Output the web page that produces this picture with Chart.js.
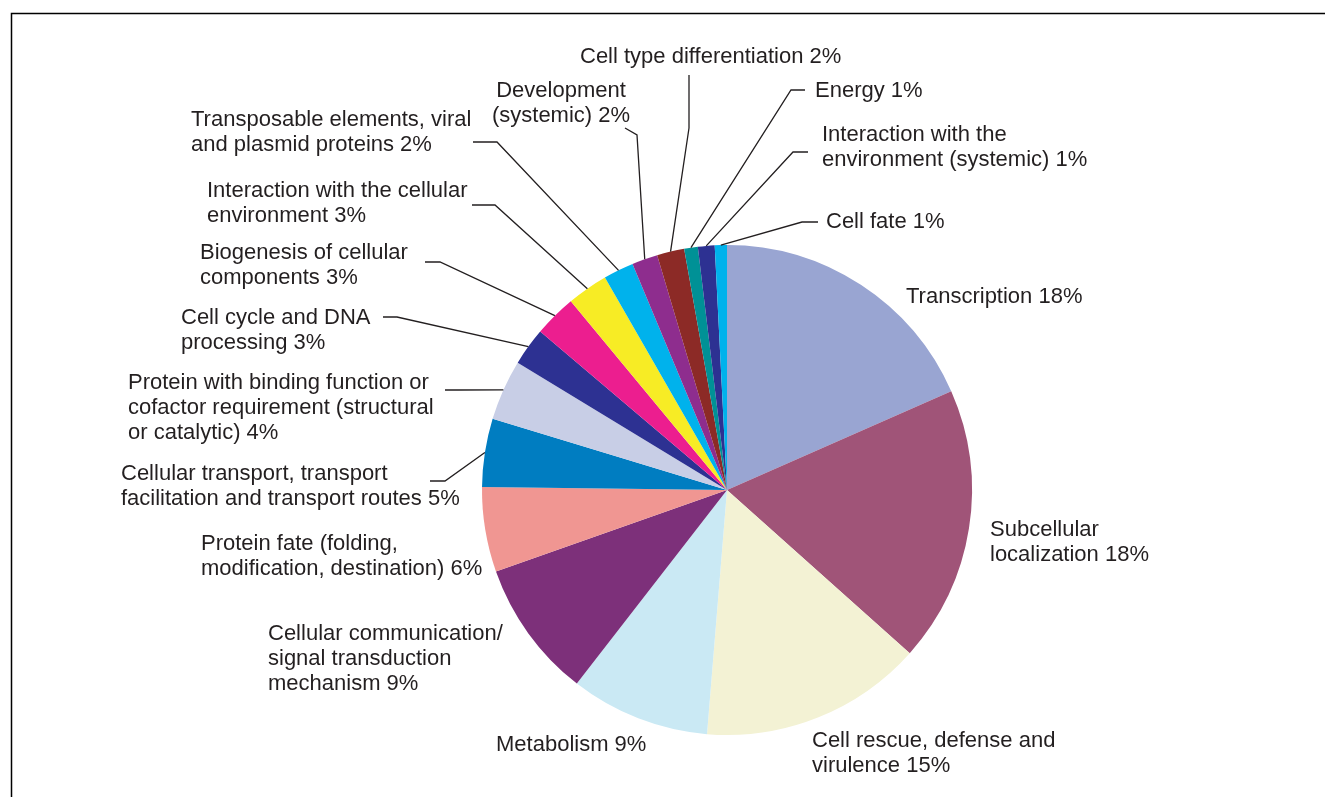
<!DOCTYPE html>
<html>
<head>
<meta charset="utf-8">
<title>Functional categories</title>
<script src="https://cdn.jsdelivr.net/npm/chart.js@4"></script>
<style>
  html, body { margin: 0; padding: 0; background: #fff; }
  #wrap { width: 1325px; height: 797px; position: relative; }
</style>
</head>
<body>
<div id="wrap"><canvas id="pieChart" width="1325" height="797"></canvas></div>
<script>
// slices, clockwise from 12 o'clock; label lines, the % is appended to the last line
const categories = [
  ['Transcription'],
  ['Subcellular', 'localization'],
  ['Cell rescue, defense and', 'virulence'],
  ['Metabolism'],
  ['Cellular communication/', 'signal transduction', 'mechanism'],
  ['Protein fate (folding,', 'modification, destination)'],
  ['Cellular transport, transport', 'facilitation and transport routes'],
  ['Protein with binding function or', 'cofactor requirement (structural', 'or catalytic)'],
  ['Cell cycle and DNA', 'processing'],
  ['Biogenesis of cellular', 'components'],
  ['Interaction with the cellular', 'environment'],
  ['Transposable elements, viral', 'and plasmid proteins'],
  ['Development', '(systemic)'],
  ['Cell type differentiation'],
  ['Energy'],
  ['Interaction with the', 'environment (systemic)'],
  ['Cell fate']
];

// share of genes, percent
const shares = [18.4, 18.2, 14.7, 9.2, 9.1, 5.6, 4.5, 4.0, 2.5, 2.8, 2.7, 2.0, 1.7, 1.8, 0.9, 1.1, 0.8];

const colors = [
  '#99a5d2', '#a05478', '#f3f2d4', '#cae9f4', '#7d307a', '#f09692',
  '#007dc1', '#c8cee6', '#2d3192', '#ec1e8f', '#f7ec25', '#00b2ec',
  '#8e2d8e', '#8c2a26', '#009196', '#2d3192', '#00b2ec'
];

// text placement: x, y of first line (middle), alignment
const labelAnchors = [
  [906, 297, 'left'],
  [990, 530, 'left'],
  [812, 741, 'left'],
  [496, 745, 'left'],
  [268, 634, 'left'],
  [201, 544, 'left'],
  [121, 474, 'left'],
  [128, 383, 'left'],
  [181, 318, 'left'],
  [200, 253, 'left'],
  [207, 191, 'left'],
  [191, 120, 'left'],
  [561, 91, 'center'],
  [580, 57, 'left'],
  [815, 91, 'left'],
  [822, 135, 'left'],
  [826, 222, 'left']
];

// leader lines: points from the text towards the slice, the slice edge is added when drawing
const leaders = {
  6: [[430, 481], [445, 481]],
  7: [[445, 390], [458, 390]],
  8: [[383, 317], [397, 317]],
  9: [[425, 262], [440, 262]],
  10: [[472, 205], [495, 205]],
  11: [[473, 142], [497, 142]],
  12: [[625, 128], [637, 135]],
  13: [[689, 75], [689, 128]],
  14: [[805, 90], [791, 90]],
  15: [[808, 152], [793, 152]],
  16: [[818, 222], [802, 222]]
};

const labelPlugin = {
  id: 'sliceLabels',
  afterDraw(chart) {
    const ctx = chart.ctx;
    const arcs = chart.getDatasetMeta(0).data;
    ctx.save();

    // frame
    ctx.strokeStyle = '#000';
    ctx.lineWidth = 1.5;
    ctx.beginPath();
    ctx.moveTo(11.5, 800);
    ctx.lineTo(11.5, 13.5);
    ctx.lineTo(1330, 13.5);
    ctx.stroke();

    ctx.font = '22px "Liberation Sans", Arial, sans-serif';
    ctx.fillStyle = '#231f20';
    ctx.textBaseline = 'middle';
    ctx.strokeStyle = '#231f20';
    ctx.lineWidth = 1.3;

    categories.forEach((lines, i) => {
      const [x, y, align] = labelAnchors[i];
      const text = lines.slice();
      text[text.length - 1] += ' ' + Math.round(shares[i]) + '%';
      ctx.textAlign = align;
      text.forEach((t, k) => ctx.fillText(t, x, y + k * 25));

      const pts = leaders[i];
      if (pts) {
        const a = arcs[i];
        const mid = (a.startAngle + a.endAngle) / 2;
        ctx.beginPath();
        ctx.moveTo(pts[0][0], pts[0][1]);
        for (let k = 1; k < pts.length; k++) ctx.lineTo(pts[k][0], pts[k][1]);
        ctx.lineTo(a.x + a.outerRadius * Math.cos(mid), a.y + a.outerRadius * Math.sin(mid));
        ctx.stroke();
      }
    });
    ctx.restore();
  }
};

new Chart(document.getElementById('pieChart').getContext('2d'), {
  type: 'pie',
  data: {
    labels: categories.map(l => l.join(' ')),
    datasets: [{
      data: shares,
      backgroundColor: colors,
      borderWidth: 0
    }]
  },
  options: {
    responsive: false,
    animation: false,
    layout: { padding: { left: 482, top: 245, right: 353, bottom: 62 } },
    plugins: {
      legend: { display: false },
      tooltip: { enabled: false }
    }
  },
  plugins: [labelPlugin]
});
</script>
</body>
</html>
